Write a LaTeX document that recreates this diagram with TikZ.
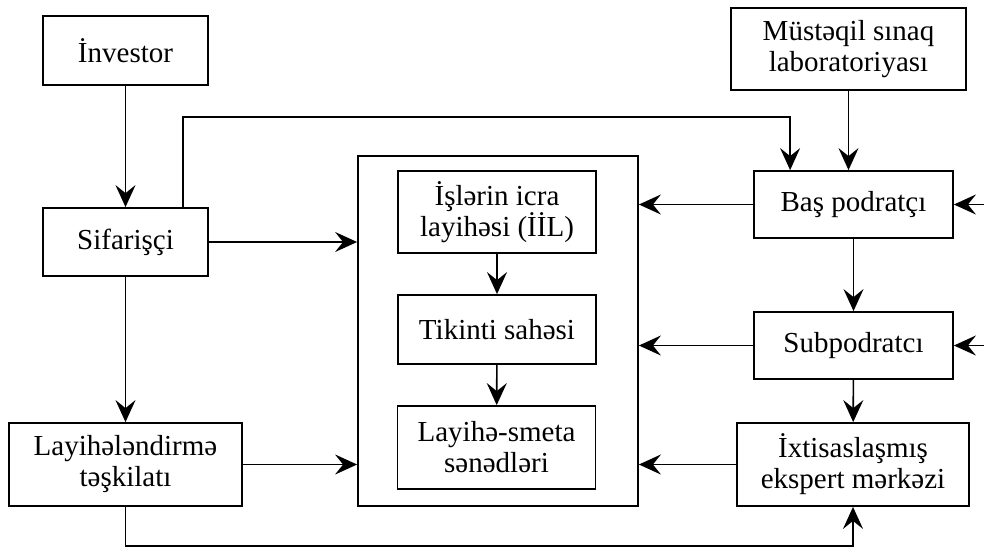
\documentclass[tikz,border=0pt]{standalone}
\usepackage{fontspec}
\setmainfont{LiberationSerif}[Extension=.ttf, UprightFont=*-Regular, BoldFont=*-Bold]
\usetikzlibrary{arrows.meta,calc}
\begin{document}
\begin{tikzpicture}[
    x=0.5pt, y=-0.5pt,
    box/.style={draw, line width=0.9pt, rectangle, align=center, inner sep=0pt,
        font=\fontsize{14.5}{15.5}\selectfont},
    frame/.style={draw, line width=0.9pt, rectangle, inner sep=0pt},
    arrow/.style={-{Stealth[length=11pt, width=10pt, inset=4pt]}, line width=0.8pt}
]
\useasboundingbox (0,0) rectangle (984,547);
% Left column
\node[box, minimum width=82.5pt, minimum height=34.5pt] (inv) at (125.5,50.5) {İnvestor};
\node[box, minimum width=82.5pt, minimum height=34pt] (sif) at (125.5,242) {Sifarişçi};
\node[box, minimum width=116.5pt, minimum height=41.5pt] (lay) at (125.5,464.5) {Layihələndirmə\\təşkilatı};
% Middle block
\node[frame, minimum width=140pt, minimum height=175pt] (blk) at (498,331) {};
\node[box, minimum width=99pt, minimum height=41pt] (iil) at (497,212) {İşlərin icra\\layihəsi (İİL)};
\node[box, minimum width=99pt, minimum height=34.5pt] (tik) at (497,329.5) {Tikinti sahəsi};
\node[box, minimum width=99pt, minimum height=41.5pt] (sme) at (496.5,447.5) {Layihə-smeta\\sənədləri};
% Right column
\node[box, minimum width=117.5pt, minimum height=41pt] (mus) at (848.5,49) {Müstəqil sınaq\\laboratoriyası};
\node[box, minimum width=99.5pt, minimum height=33.5pt] (bas) at (853.5,204.5) {Baş podratçı};
\node[box, minimum width=99.5pt, minimum height=33.5pt] (sub) at (853.5,345.5) {Subpodratcı};
\node[box, minimum width=116pt, minimum height=41.5pt] (ixt) at (853,464.5) {İxtisaslaşmış\\ekspert mərkəzi};
% Outside inputs
\coordinate (inB) at (984,204.5);
\coordinate (inS) at (984,345.5);
% Arrows
\draw[arrow] (inv) -- (sif);
\draw[arrow] (sif) -- (lay);
\draw[arrow] (sif.east) -- (sif.east -| blk.west);
\draw[arrow] (lay.east) -- (lay.east -| blk.west);
\draw[arrow] ([xshift=-13pt]sif.north east) -- ++(0,-90) -| ([xshift=18.5pt]bas.north west);
\draw[arrow] (mus.south) -- (mus.south |- bas.north);
\draw[arrow] (bas) -- (sub);
\draw[arrow] (sub) -- (ixt);
\draw[arrow] (inB) -- (bas.east);
\draw[arrow] (inS) -- (sub.east);
\draw[arrow] (bas.west) -- (bas.west -| blk.east);
\draw[arrow] (sub.west) -- (sub.west -| blk.east);
\draw[arrow] (ixt.west) -- (ixt.west -| blk.east);
\draw[arrow] (iil) -- (tik);
\draw[arrow] (tik) -- (sme);
\draw[arrow] (lay.south) -- ++(0,39) -| (ixt.south);
\end{tikzpicture}
\end{document}
